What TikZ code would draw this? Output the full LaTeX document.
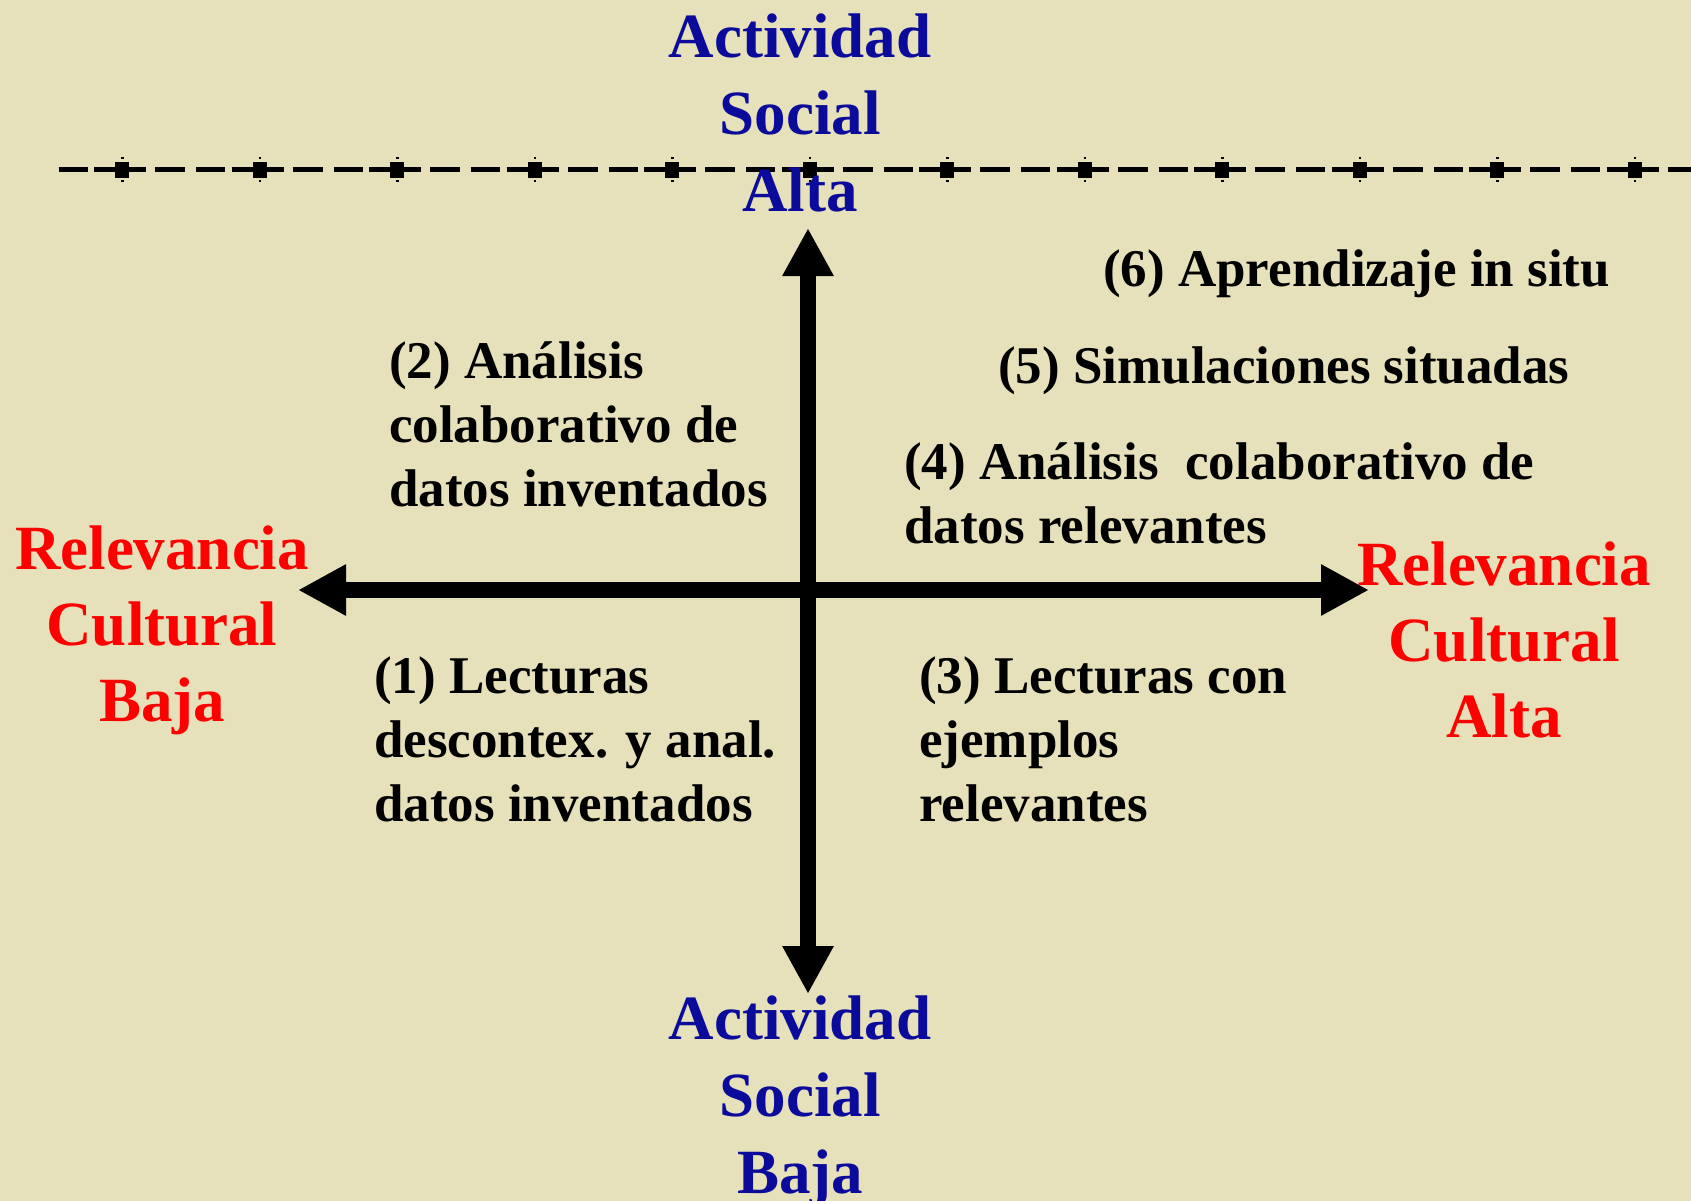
\documentclass[tikz,border=0pt]{standalone}
\usepackage{fontspec}
\setmainfont{Liberation Serif}
\usetikzlibrary{arrows.meta}
\definecolor{bgbeige}{RGB}{230,225,186}
\definecolor{axisblue}{RGB}{10,10,155}
\definecolor{axisred}{RGB}{255,0,0}
\tikzset{
  bluelbl/.style={text=axisblue, font=\bfseries\fontsize{63}{77}\selectfont, align=center, inner sep=0pt, anchor=north},
  redlbl/.style={text=axisred, font=\bfseries\fontsize{63}{76}\selectfont, align=center, inner sep=0pt, anchor=north},
  quadlbl/.style={text=black, font=\bfseries\fontsize{53}{64}\selectfont, align=left, inner sep=0pt, anchor=north west},
  axisline/.style={line width=16pt, {Triangle[length=48pt,width=48pt]}-{Triangle[length=48pt,width=48pt]}},
  dashline/.style={line width=5pt, dash pattern=on 52pt off 9pt on 30pt off 11pt on 29pt off 6.5pt},
  markbox/.style={fill=black}
}
\begin{document}
\begin{tikzpicture}[x=1pt,y=-1pt]
\useasboundingbox (0,0) rectangle (1691,1201);
\fill[bgbeige] (0,0) rectangle (1691,1201);
% dash-dot line
\begin{scope}
\clip (57,140) rectangle (1691,200);
\draw[dashline] (-43.5,170) -- (1700,170);
\end{scope}
\foreach \k in {0,...,11}{
  \pgfmathsetmacro{\mx}{122+137.5*\k}
  \fill[markbox] (\mx-7,162) rectangle (\mx+7,178);
  \fill[markbox] (\mx-1,157) rectangle (\mx+1.5,159);
  \fill[markbox] (\mx-1,180) rectangle (\mx+1.5,182);
}
% axes
\coordinate (top) at (808,228);
\coordinate (bottom) at (808,994);
\coordinate (left) at (298,590);
\coordinate (right) at (1369,590);
\draw[axisline] (bottom) -- (top);
\draw[axisline] (left) -- (right);
% axis labels
\node[bluelbl] (asa) at (800,14) {Actividad\\Social\\Alta};
\node[bluelbl] (asb) at (800,996) {Actividad\\Social\\Baja};
\node[redlbl] (rcb) at (162,526) {Relevancia\\Cultural\\Baja};
\node[redlbl] (rca) at (1504,542) {Relevancia\\Cultural\\Alta};
% quadrant labels
\node[quadlbl] (q6) at (1103,250) {(6) Aprendizaje in situ};
\node[quadlbl] (q5) at (998,347) {(5) Simulaciones situadas};
\node[quadlbl] (q4) at (904,442) {(4) Análisis\ \ colaborativo de\\datos relevantes};
\node[quadlbl] (q2) at (389,341) {(2) Análisis\\colaborativo de\\datos inventados};
\node[quadlbl] (q1) at (374,657) {(1) Lecturas\\descontex. y anal.\\datos inventados};
\node[quadlbl] (q3) at (919,657) {(3) Lecturas con\\ejemplos\\relevantes};
\end{tikzpicture}
\end{document}
